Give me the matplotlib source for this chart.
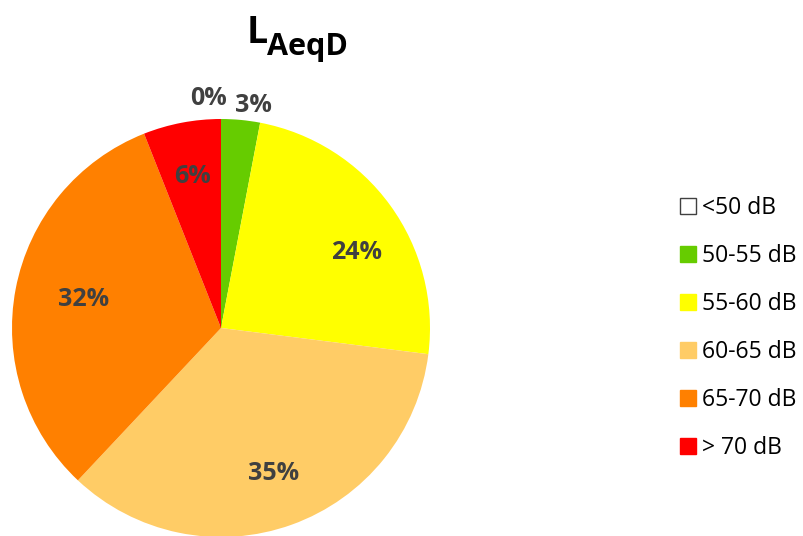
import numpy as np
import matplotlib.pyplot as plt
from matplotlib.patches import Patch

plt.rcParams['font.family'] = ['Open Sans', 'DejaVu Sans']

# Daten
labels = ['<50 dB', '50-55 dB', '55-60 dB', '60-65 dB', '65-70 dB', '> 70 dB']
shares = [0, 3, 24, 35, 32, 6]
colors = ['#FFFFFF', '#66CC00', '#FFFF00', '#FFCC66', '#FF8000', '#FF0000']

# Radius und Verschiebung der Prozentangaben (in Kreisradien)
lab_r = [1.1, 1.1, 0.74, 0.74, 0.74, 0.74]
lab_off = [(-0.06, 0.0), (0.05, -0.03), (0.05, -0.075), (0.0, 0.0), (0.07, 0.0), (0.0, 0.0)]

fig = plt.figure(figsize=(8.04, 5.36), dpi=100)
# Kreis: Mitte (221,328) px, Radius 209 px
ax = fig.add_axes([12/804, -1/536, 418/804, 418/536])

wedges, _ = ax.pie(shares, colors=colors, startangle=90, counterclock=False,
                   radius=1, wedgeprops=dict(linewidth=0))
wedges[0].set_edgecolor('#404040')
wedges[0].set_linewidth(0.8)
ax.set_xlim(-1, 1)
ax.set_ylim(-1, 1)
ax.set_aspect('equal')
ax.axis('off')

# Beschriftung
for i, w in enumerate(wedges):
    mid = np.deg2rad((w.theta1 + w.theta2) / 2)
    dx, dy = lab_off[i]
    ax.text(lab_r[i]*np.cos(mid) + dx, lab_r[i]*np.sin(mid) + dy, f'{shares[i]}%',
            ha='center', va='center', fontsize=18, fontweight='bold', color='#404040')

# Titel L_AeqD
fig.text(247/804, 1 - 43/536, 'L', ha='left', va='baseline',
         fontsize=27, fontweight='bold', color='black')
fig.text(267/804, 1 - 55/536, 'AeqD', ha='left', va='baseline',
         fontsize=22, fontweight='bold', color='black')

handles = [Patch(facecolor=c, edgecolor='#404040' if i == 0 else c, linewidth=1)
           for i, c in enumerate(colors)]
fig.legend(handles, labels, loc='center left', bbox_to_anchor=(659/804, 1 - 328/536),
           frameon=False, fontsize=16.5, handlelength=0.7, handleheight=0.7,
           handletextpad=0.28, labelspacing=1.05)

fig.savefig('out.png', dpi=100)
